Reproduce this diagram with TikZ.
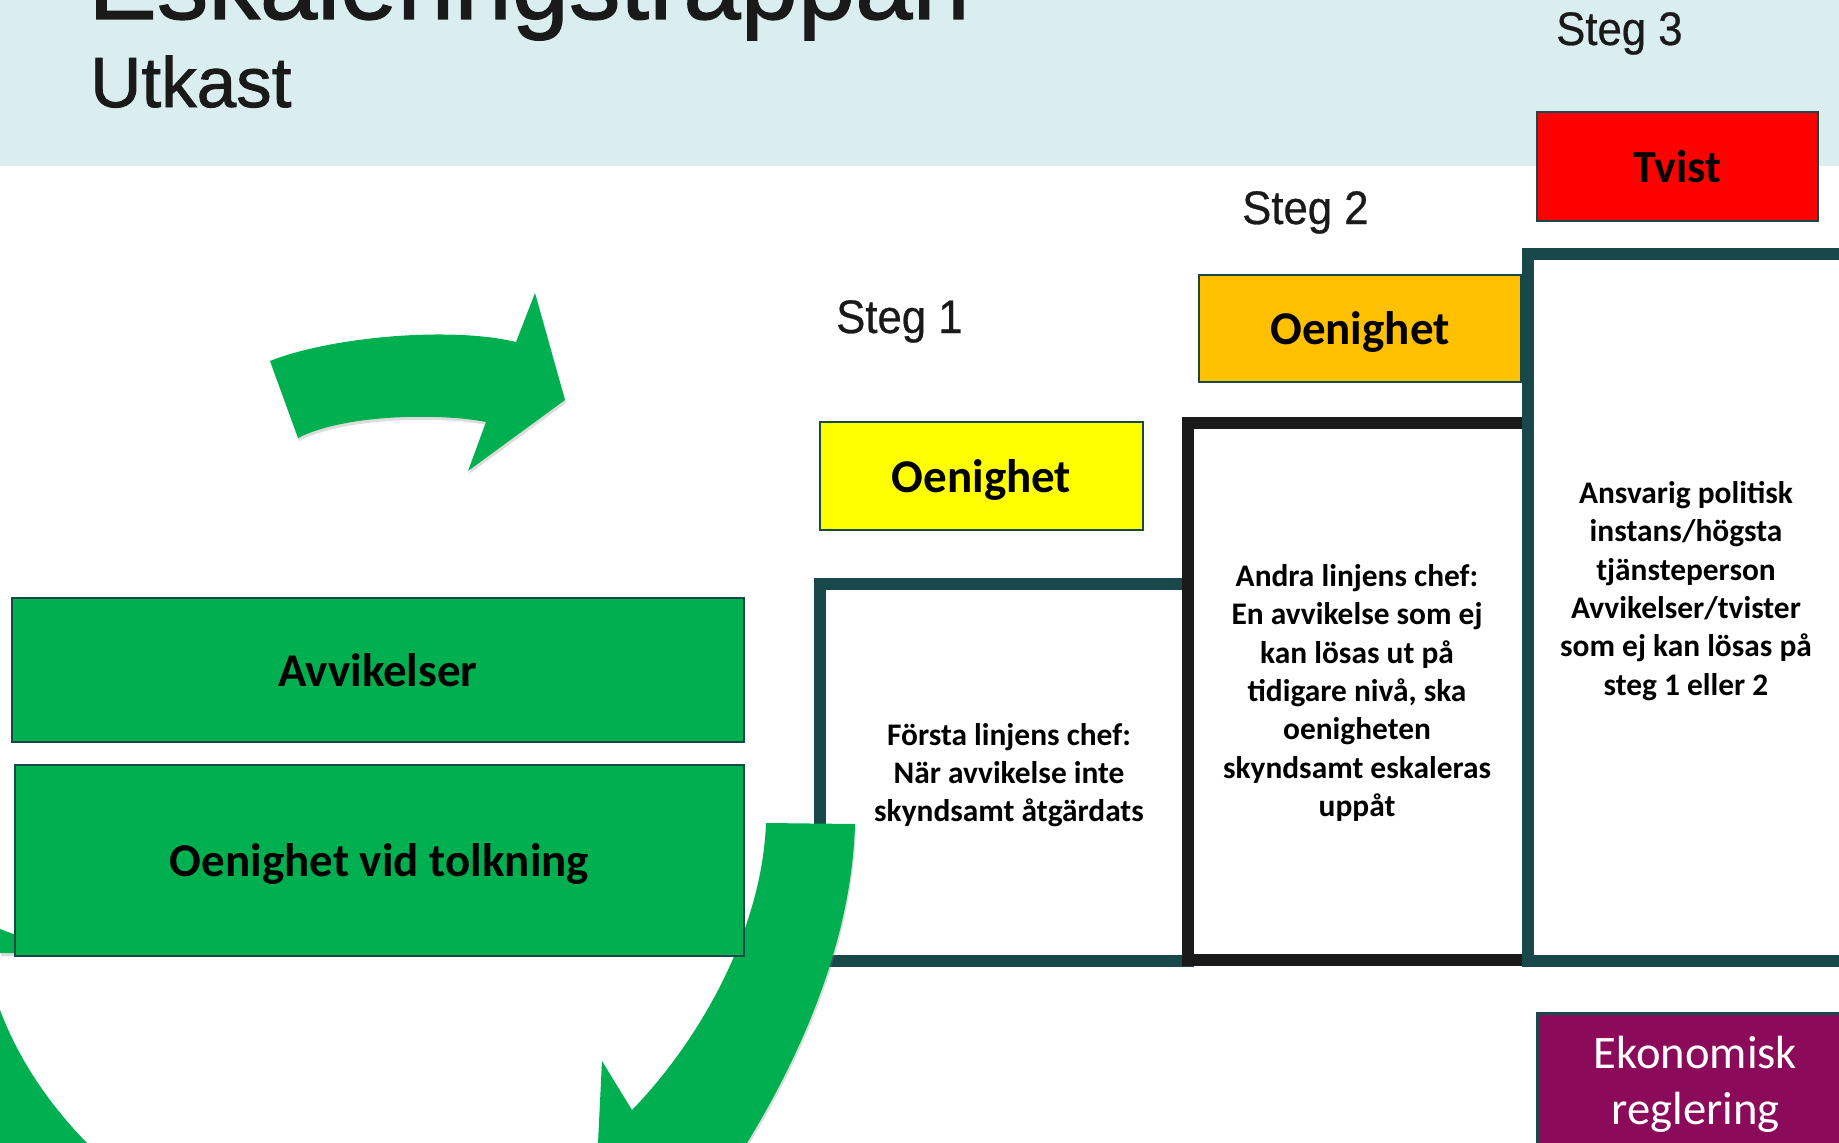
\documentclass[tikz,border=0pt]{standalone}
\usepackage{fontspec}
\setmainfont{Liberation Sans}
\newfontfamily\calibri{Carlito}
\newfontfamily\titlefont[FakeBold=1.2]{Liberation Sans}
\newfontfamily\stegfont[FakeBold=0.6]{Liberation Sans}
\usetikzlibrary{shadows}
\definecolor{bandblue}{RGB}{218,238,240}
\definecolor{stairteal}{RGB}{24,72,74}
\definecolor{stairblack}{RGB}{26,26,26}
\definecolor{titlegray}{RGB}{26,26,26}
\definecolor{arrowgreen}{RGB}{0,176,80}
\definecolor{boxyellow}{RGB}{255,255,0}
\definecolor{boxorange}{RGB}{255,192,0}
\definecolor{boxred}{RGB}{255,0,0}
\definecolor{boxpurple}{RGB}{139,10,90}
\tikzset{
  garrow/.style={fill=arrowgreen, drop shadow={opacity=0.28, shadow xshift=1pt, shadow yshift=-3pt}},
  stairline/.style={line width=12pt, fill=white},
  labelbox/.style={draw=stairteal, line width=2.5pt, inner sep=0pt, text=black,
    font=\calibri\bfseries\fontsize{47}{56}\selectfont, text height=32pt, text depth=0pt},
  steplabel/.style={anchor=base west, inner sep=0pt, text=titlegray, font=\stegfont\fontsize{47}{56}\selectfont},
  stairtext/.style={align=center, inner sep=0pt, text=black,
    font=\calibri\bfseries\fontsize{31.4}{38.3}\selectfont}
}
\begin{document}
\begin{tikzpicture}[x=1pt,y=-1pt]
\useasboundingbox (0,0) rectangle (1839,1143);
\clip (0,0) rectangle (1839,1143);
% header band
\fill[bandblue] (0,0) rectangle (1839,166);
\node[anchor=base west, inner sep=0pt, text=titlegray, font=\titlefont\fontsize{103}{110}\selectfont] (title) at (88,19) {Eskaleringstrappan};
\node[anchor=base west, inner sep=0pt, text=titlegray, font=\titlefont\fontsize{71}{80}\selectfont] (subtitle) at (90,107) {Utkast};

% step labels
\node[steplabel] (steg1) at (836,333) {\scalebox{0.93}[1]{Steg 1}};
\node[steplabel] (steg2) at (1242,224) {\scalebox{0.93}[1]{Steg 2}};
\node[steplabel] (steg3) at (1556,45) {\scalebox{0.93}[1]{Steg 3}};

% stairs
\draw[stairline, draw=stairteal] (819.5,584) rectangle (1187.5,961);
\draw[stairline, draw=stairblack] (1187.5,423) rectangle (1527.5,960);
\draw[stairline, draw=stairteal] (1527.5,254) rectangle (1845,961);

\node[stairtext] (t1) at (1009,775) {Första linjens chef:\\När avvikelse inte\\skyndsamt åtgärdats};
\node[stairtext] (t2) at (1357,693) {Andra linjens chef:\\En avvikelse som ej\\kan lösas ut på\\tidigare nivå, ska\\oenigheten\\skyndsamt eskaleras\\uppåt};
\node[stairtext] (t3) at (1686,591) {Ansvarig politisk\\instans/högsta\\tjänsteperson\\Avvikelser/tvister\\som ej kan lösas på\\steg 1 eller 2};

% coloured labels
\node[labelbox, fill=boxyellow, minimum width=323pt, minimum height=108pt] (oen1) at (981.5,476) {Oenighet};
\node[labelbox, fill=boxorange, minimum width=322pt, minimum height=107pt] (oen2) at (1360,328.5) {Oenighet};
\node[labelbox, fill=boxred, minimum width=281pt, minimum height=109pt, font=\calibri\bfseries\fontsize{46}{56}\selectfont] (tvist) at (1677.5,166.5) {Tvist};
\node[labelbox, fill=boxpurple, anchor=north west, minimum width=320pt, minimum height=160pt] (eko) at (1536,1012) {};
\node[align=center, inner sep=0pt, text=white, font=\calibri\fontsize{46.6}{56}\selectfont] (ekotext) at (1695.5,1084) {Ekonomisk\\reglering};

% green cycle arrows
\fill[garrow] (270,361) .. controls (330,337) and (450,326) .. (516,342) -- (535,293) -- (565,400) -- (468,471) -- (486,422) .. controls (440,413) and (345,414) .. (298,438) -- cycle;
\fill[garrow] (766,823) -- (855,824) .. controls (852,930) and (810,1040) .. (747,1143) -- (725,1178) -- (612,1235) -- (598,1143) -- (602,1061) -- (632,1110) .. controls (700,1040) and (762,930) .. (766,823) -- cycle;
\fill[garrow] (0,1010) .. controls (17,1055) and (45,1100) .. (87,1143) -- (95,1160) -- (-20,1160) -- (-20,1000) -- cycle;
\fill[garrow] (0,929) -- (40,944) -- (40,953) -- (0,953) -- cycle;

% green boxes
\node[labelbox, fill=arrowgreen, minimum width=732pt, minimum height=144pt] (avv) at (378,670) {Avvikelser};
\node[labelbox, fill=arrowgreen, minimum width=729pt, minimum height=191pt] (tolk) at (379.5,860.5) {Oenighet vid tolkning};
\end{tikzpicture}
\end{document}
